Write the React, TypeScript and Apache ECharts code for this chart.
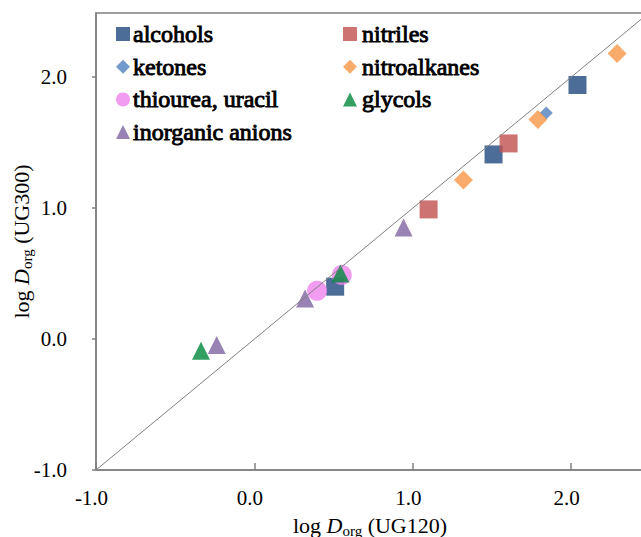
import React, { useEffect, useRef } from "react";
import * as echarts from "echarts";

const alcohols: number[][] = [[2.04, 1.94], [1.51, 1.41], [0.51, 0.40]];
const nitriles: number[][] = [[1.605, 1.494], [1.10, 0.99]];
const ketones: number[][] = [[1.843, 1.727]];
const nitroalkanes: number[][] = [[2.29, 2.18], [1.79, 1.677], [1.32, 1.214]];
const thiourea: number[][] = [[0.396, 0.369], [0.552, 0.489]];
const glycols: number[][] = [[0.543, 0.50], [-0.337, -0.089]];
const anions: number[][] = [[0.942, 0.851], [0.32, 0.31], [-0.238, -0.046]];
const identity: number[][] = [[-1, -1], [2.6, 2.6]];

const legendCol1 = ["alcohols", "ketones", "thiourea, uracil", "inorganic anions"];
const legendCol2 = ["nitriles", "nitroalkanes", "glycols"];

const FONT = "Liberation Serif";

const tickFmt = (v: number) => (Math.abs(v - Math.round(v)) < 1e-6 ? v.toFixed(1) : "");

export default function App() {
  const ref = useRef<HTMLDivElement>(null);
  useEffect(() => {
    if (!ref.current) return;
    const chart = echarts.init(ref.current, undefined, { renderer: "svg" });
    const LEG_TOP = 27;
    const ROW = 32.7;
    const mkLegend = (left: number, data: string[]) => ({
      orient: "vertical",
      left,
      top: LEG_TOP,
      padding: 0,
      itemWidth: 14,
      itemHeight: 14,
      itemGap: ROW - 14,
      data,
      formatter: () => "",
      textStyle: { fontSize: 1 },
    });
    const mkTexts = (x: number, data: string[]) =>
      data.map((t, i) => ({
        type: "text",
        x,
        y: LEG_TOP + 7 + i * ROW,
        silent: true,
        style: {
          text: t,
          fontFamily: FONT,
          fontSize: 24,
          fontWeight: "normal",
          fill: "#000",
          stroke: "#000",
          lineWidth: 0.9,
          align: "left",
          verticalAlign: "middle",
        },
      }));
    const nameRich = {
      a: { fontFamily: FONT, fontSize: 22, color: "#000" },
      i: { fontFamily: FONT, fontSize: 22, fontStyle: "italic", color: "#000" },
      s: { fontFamily: FONT, fontSize: 15, color: "#000", padding: [11, 0, 0, 0] },
    };
    chart.setOption({
      animation: false,
      backgroundColor: "#fff",
      textStyle: { fontFamily: FONT },
      grid: {
        left: 96,
        top: 13,
        right: -3,
        bottom: 67,
        show: true,
        borderColor: "#808080",
        borderWidth: 1.5,
        containLabel: false,
        outerBoundsMode: "none",
      },
      legend: [mkLegend(116, legendCol1), mkLegend(343, legendCol2)],
      graphic: [...mkTexts(133, legendCol1), ...mkTexts(362, legendCol2)],
      xAxis: {
        type: "value",
        min: -1,
        max: 2.46,
        interval: 1,
        splitLine: { show: false },
        axisLine: { show: true, onZero: false, lineStyle: { color: "#808080", width: 1.5 } },
        axisTick: { show: true, inside: true, length: 7, lineStyle: { color: "#808080", width: 1.5 } },
        axisLabel: {
          fontFamily: FONT,
          fontSize: 21,
          color: "#000",
          margin: 17,
          padding: [0, 9, 0, 0],
          showMaxLabel: false,
          formatter: tickFmt,
        },
        name: "{a|log }{i|D}{s|org}{a| (UG120)}",
        nameLocation: "middle",
        nameGap: 42,
        nameMoveOverlap: false,
        nameTextStyle: { rich: nameRich },
      },
      yAxis: {
        type: "value",
        min: -1,
        max: 2.49,
        interval: 1,
        splitLine: { show: false },
        axisLine: { show: true, onZero: false, lineStyle: { color: "#808080", width: 1.5 } },
        axisTick: { show: true, inside: false, length: 4, lineStyle: { color: "#808080", width: 1.5 } },
        axisLabel: {
          fontFamily: FONT,
          fontSize: 21,
          color: "#000",
          margin: 29,
          showMaxLabel: false,
          formatter: tickFmt,
        },
        name: "{a|log }{i|D}{s|org}{a| (UG300)}",
        nameLocation: "middle",
        nameRotate: 90,
        nameGap: 62,
        nameMoveOverlap: false,
        nameTextStyle: { rich: nameRich },
      },
      series: [
        { name: "alcohols", type: "scatter", symbol: "rect", symbolSize: 18, itemStyle: { color: "#1F497D" }, data: alcohols, z: 2 },
        { name: "nitriles", type: "scatter", symbol: "rect", symbolSize: 18, itemStyle: { color: "#C0504D" }, data: nitriles, z: 2 },
        { name: "ketones", type: "scatter", symbol: "diamond", symbolSize: 13, itemStyle: { color: "#4F81BD" }, data: ketones, z: 2 },
        { name: "nitroalkanes", type: "scatter", symbol: "diamond", symbolSize: 19, itemStyle: { color: "#F79646" }, data: nitroalkanes, z: 2 },
        { name: "thiourea, uracil", type: "scatter", symbol: "circle", symbolSize: 20, itemStyle: { color: "#EE82EE" }, data: thiourea, z: 2 },
        { name: "glycols", type: "scatter", symbol: "triangle", symbolSize: 18, itemStyle: { color: "#00873C" }, data: glycols, z: 2 },
        { name: "inorganic anions", type: "scatter", symbol: "triangle", symbolSize: 18, itemStyle: { color: "#8064A2" }, data: anions, z: 2 },
        {
          name: "y = x",
          type: "line",
          data: identity,
          symbol: "none",
          clip: true,
          lineStyle: { color: "#808080", width: 1 },
          z: 3,
          silent: true,
        },
      ],
    });
    return () => chart.dispose();
  }, []);
  return <div ref={ref} style={{ position: "fixed", left: 0, top: 0, width: 641, height: 537 }} />;
}
